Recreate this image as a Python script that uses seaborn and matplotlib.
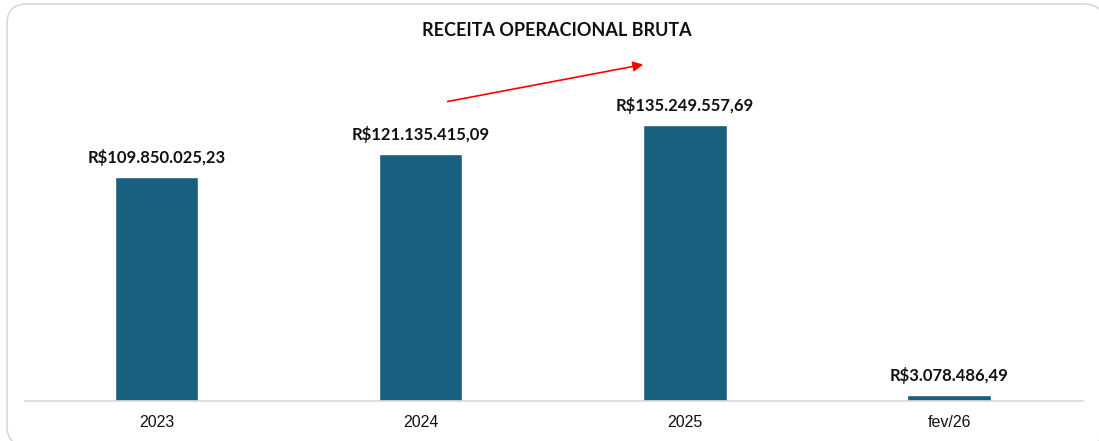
import matplotlib.pyplot as plt
import seaborn as sns
import numpy as np
from matplotlib.patches import FancyBboxPatch, FancyArrowPatch
from matplotlib.transforms import IdentityTransform

# == DATA ==
periodos = ["2023", "2024", "2025", "fev/26"]
receita = [109850025.23, 121135415.09, 135249557.69, 3078486.49]
rotulos = ["R$109.850.025,23", "R$121.135.415,09", "R$135.249.557,69", "R$3.078.486,49"]

COR_BARRA = "#17607F"

sns.set_theme(style="white")
plt.rcParams["font.family"] = ["Liberation Sans", "DejaVu Sans"]

fig = plt.figure(figsize=(10.99, 4.41), dpi=100)

# rounded frame around the chart (behind everything), in pixels
frame = FancyBboxPatch((7, -5), 1097, 442,
                       boxstyle="round,pad=0,rounding_size=20",
                       transform=IdentityTransform(), facecolor="white",
                       edgecolor="#D9D9D9", linewidth=1.2, zorder=-10)
fig.patches.append(frame)

ax = fig.add_axes([24.5 / 1099, 40 / 441, 1058 / 1099, 330 / 441])
ax.patch.set_alpha(0)

sns.barplot(x=periodos, y=receita, ax=ax, color=COR_BARRA, width=0.315,
            saturation=1)

ax.set_xlim(-0.5, 3.505)
ax.set_ylim(0, 135249557.69 * 330 / 276)

for i, (v, txt) in enumerate(zip(receita, rotulos)):
    ax.annotate(txt, (i, v), xytext=(0, 8), textcoords="offset points",
                ha="center", va="bottom", fontsize=12, fontweight="bold",
                family=["Lato", "DejaVu Sans"], color="#111111")

for s in ["top", "right", "left"]:
    ax.spines[s].set_visible(False)
ax.spines["bottom"].set_color("#D9D9D9")
ax.spines["bottom"].set_linewidth(1.2)
ax.set_yticks([])
ax.set_xlabel("")
ax.set_ylabel("")
ax.tick_params(axis="x", length=0, pad=10, labelsize=11.5, labelcolor="#111111")

fig.text(557 / 1099, 1 - 31 / 441, "RECEITA OPERACIONAL BRUTA", ha="center",
         va="center", fontsize=13, fontweight="bold",
         family=["Lato", "DejaVu Sans"], color="#111111")

# red trend arrow
fig.add_artist(FancyArrowPatch(
    (445 / 1099, 1 - 102 / 441), (646 / 1099, 1 - 64 / 441),
    transform=fig.transFigure, arrowstyle="-|>,head_length=6,head_width=3",
    color="red", linewidth=1.2, zorder=5))

fig.savefig("out.png", dpi=100)
